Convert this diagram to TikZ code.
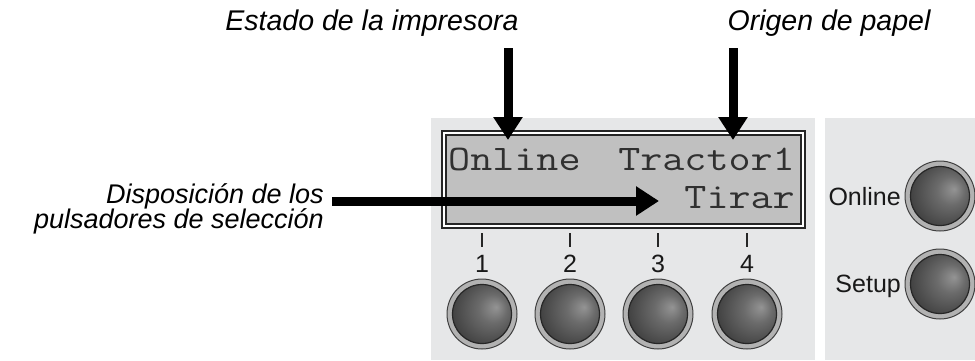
\documentclass[tikz,border=0pt]{standalone}
\usepackage{graphicx}
\usepackage{fontspec}
\setmainfont{Liberation Sans}
\usetikzlibrary{arrows.meta}
\definecolor{panel}{HTML}{E6E7E8}
\definecolor{lcd}{HTML}{C0C0C0}
\definecolor{lcdtext}{HTML}{303030}
\pgfdeclareradialshading{btnshade}{\pgfpoint{12bp}{6bp}}{color(0bp)=(black!42); color(12bp)=(black!58); color(30bp)=(black!74); color(50bp)=(black!82)}
\newcommand{\lcd}[1]{\scalebox{1.19}[1]{\fontsize{36}{36}\ttfamily #1}}
\tikzset{
  label/.style={font=\fontsize{28.5}{28.5}\selectfont\itshape, inner sep=0pt},
  sidelabel/.style={font=\fontsize{27}{27}\selectfont\itshape, inner sep=0pt},
  lcdtxt/.style={text=lcdtext, inner sep=0pt},
  num/.style={font=\fontsize{25}{25}\selectfont, inner sep=0pt, text=black!90},
  btnlabel/.style={font=\fontsize{25}{25}\selectfont, inner sep=0pt, text=black!90},
  callout/.style={line width=9pt, -{Triangle[width=28pt,length=23pt]}},
  tick/.style={line width=2.8pt, black!85},
}
\newcommand{\mybutton}[2]{%
  \fill[black!30, draw=black!75, line width=1pt] #1 circle (35);
  \shade[shading=btnshade, draw=black!85, line width=1.2pt] #1 circle (29.5);
  \coordinate (#2) at #1;
}
\begin{document}
\begin{tikzpicture}[x=1pt,y=-1pt]
\useasboundingbox (0,0) rectangle (975,360);
% panels
\fill[panel] (431,118) rectangle (815,360);
\fill[panel] (825,118) rectangle (975,360);
% LCD
\draw[black!85, line width=2pt, fill=white] (442,131) rectangle (805,228);
\draw[black!85, line width=1.4pt, fill=lcd] (446,135) rectangle (801,224);
\node[lcdtxt, anchor=base west] (online) at (448,170) {\lcd{Online}};
\node[lcdtxt, anchor=base east] (tractor) at (795,170) {\lcd{Tractor1}};
\node[lcdtxt, anchor=base east] (tirar) at (795,208) {\lcd{Tirar}};
% ticks and numbers
\foreach \x/\n in {482/1,570/2,658/3,747/4}{
  \draw[tick] (\x,233) -- (\x,247);
  \node[num, anchor=base] (n\n) at (\x,272) {\n};
}
% buttons
\mybutton{(482,314)}{b1}
\mybutton{(570,314)}{b2}
\mybutton{(658,314)}{b3}
\mybutton{(747,314)}{b4}
\mybutton{(940,196)}{bon}
\mybutton{(940,284)}{bset}
\node[btnlabel, anchor=base east] (lon) at (901,205) {Online};
\node[btnlabel, anchor=base east] (lset) at (901,292) {Setup};
% labels
\node[label, anchor=base] (estado) at (372,30) {Estado de la impresora};
\node[label, anchor=base] (origen) at (829,30) {Origen de papel};
\node[sidelabel, anchor=base east] (dispo) at (324,203) {Disposición de los};
\node[sidelabel, anchor=base east] (puls) at (324,228) {pulsadores de selección};
% arrow ends
\coordinate (a1s) at (508,48);
\coordinate (a1e) at (508,140);
\coordinate (a2s) at (733,48);
\coordinate (a2e) at (733,140);
\coordinate (a3s) at (332,201);
\coordinate (a3e) at (659,201);
\draw[callout] (a1s) -- (a1e);
\draw[callout] (a2s) -- (a2e);
\draw[callout] (a3s) -- (a3e);
\end{tikzpicture}
\end{document}
